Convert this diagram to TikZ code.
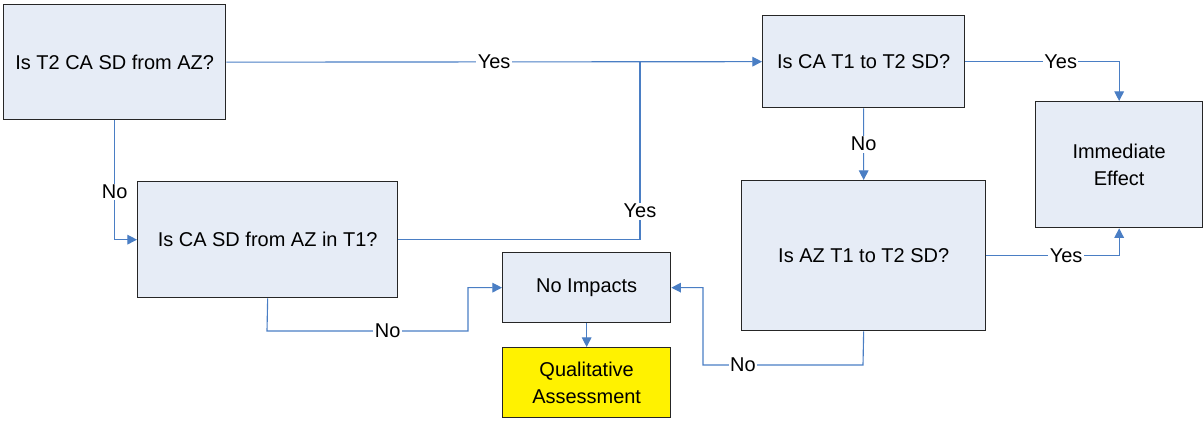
\documentclass[tikz,border=0pt]{standalone}
\usepackage{fontspec}
\setmainfont{Liberation Sans}
\usetikzlibrary{arrows.meta}
\definecolor{boite}{HTML}{E6ECF6}
\definecolor{fleche}{HTML}{4A7EC4}
\tikzstyle{question} = [rectangle, draw=black!85, line width=0.9pt, fill=boite, inner sep=0pt, text centered, font=\fontsize{14.2}{19.5}\selectfont]
\tikzstyle{jaune} = [question, fill=yellow]
\tikzstyle{lien} = [draw=fleche, line width=0.8pt]
\tikzstyle{fl} = [lien, -{Triangle[length=2.4mm,width=2.4mm]}]
\tikzstyle{etiq} = [fill=white, inner sep=1pt, text=black, font=\fontsize{14.2}{17}\selectfont]

\begin{document}
\begin{tikzpicture}[x=0.025cm, y=-0.025cm]
                \useasboundingbox (0,0) rectangle (1204,424);

                \node [question, anchor=north west, minimum width=5.55cm, minimum height=2.875cm] (t2ca) at (3,4) {Is T2 CA SD from AZ?};
                \node [question, anchor=north west, minimum width=6.5cm, minimum height=2.9cm] (cat1) at (137,181) {Is CA SD from AZ in T1?};
                \node [question, anchor=north west, minimum width=5.05cm, minimum height=2.3cm] (cat1t2) at (762,15) {Is CA T1 to T2 SD?};
                \node [question, anchor=north west, minimum width=6.1cm, minimum height=3.75cm] (azt1t2) at (741,180) {Is AZ T1 to T2 SD?};
                \node [question, anchor=north west, minimum width=4.175cm, minimum height=3.15cm, text width=4cm] (effet) at (1035,101) {Immediate\\Effect};
                \node [question, anchor=north west, minimum width=4.2cm, minimum height=1.75cm] (aucun) at (502,252) {No Impacts};
                \node [jaune, anchor=north west, minimum width=4.2cm, minimum height=1.75cm, text width=4cm] (qualit) at (502,347) {Qualitative\\Assessment};

                \coordinate (jonction) at (640,61.5);

                \draw[fl] (t2ca.east) -- node[etiq]{Yes} (cat1t2.west);
                \draw[lien] (cat1.east) -| node[etiq, pos=0.58]{Yes} (jonction);
                \draw[fl] (t2ca.south) |- node[etiq, pos=0.3]{No} (cat1.west);
                \draw[fl] (cat1.south) -- (267,331) -- node[etiq, pos=0.6]{No} (468,331) |- (aucun.west);
                \draw[fl] (aucun.south) -- (qualit.north);
                \draw[fl] (azt1t2.south) -- (863,365) -- node[etiq, pos=0.75]{No} (703,365) |- (aucun.east);
                \draw[fl] (cat1t2.south) -- node[etiq]{No} (azt1t2.north);
                \draw[fl] (cat1t2.east) -| node[etiq, pos=0.31]{Yes} (effet.north);
                \draw[fl] (azt1t2.east) -| node[etiq, pos=0.3]{Yes} (effet.south);
            \end{tikzpicture}
\end{document}
